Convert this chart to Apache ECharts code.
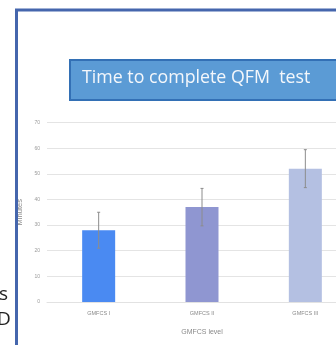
<!DOCTYPE html>
<html>
<head>
<meta charset="utf-8">
<script src="https://cdn.jsdelivr.net/npm/echarts@6/dist/echarts.min.js"></script>
<style>
  html, body { margin: 0; padding: 0; background: #ffffff; overflow: hidden; }
  #chart { width: 400px; height: 345px; }
</style>
</head>
<body>
<div id="chart"></div>
<script>
// GMFCS levels and time to complete the QFM test (minutes)
const categories = ['GMFCS I', 'GMFCS II', 'GMFCS III'];
const meanMinutes = [28, 37, 52];
const sdMinutes = [7, 7.3, 7.4];
const barColors = ['#4a8af2', '#8f96d1', '#b4c0e2'];
const yTicks = [0, 10, 20, 30, 40, 50, 60, 70];

const chart = echarts.init(document.getElementById('chart'));

const errorData = categories.map((c, i) => [i, meanMinutes[i] - sdMinutes[i], meanMinutes[i] + sdMinutes[i]]);

chart.setOption({
  animation: false,
  graphic: [
    // page frame
    { type: 'rect', shape: { x: 16.5, y: 10, width: 420, height: 400 },
      style: { fill: 'none', stroke: '#4566ad', lineWidth: 3 }, z: 1 },
    // title banner
    { type: 'rect', shape: { x: 70, y: 60, width: 320, height: 40 },
      style: { fill: '#5b9bd5', stroke: '#3370b5', lineWidth: 2 }, z: 10 },
    { type: 'text', left: 82, top: 69, z: 11,
      style: { text: 'Time to complete QFM  test', fill: '#f4f7fb',
               font: '17.8px "Open Sans", sans-serif' } },
    // fragments of surrounding text
    { type: 'text', left: -1, top: 285, z: 11,
      style: { text: 's', fill: '#222222', font: '19px "Open Sans", sans-serif' } },
    { type: 'text', left: -3, top: 310, z: 11,
      style: { text: 'D', fill: '#222222', font: '19px "Open Sans", sans-serif' } }
  ],
  grid: { left: 47, right: 43, top: 122.5, bottom: 43 },
  xAxis: {
    type: 'category',
    data: categories,
    name: 'GMFCS level',
    nameLocation: 'middle',
    nameGap: 27,
    nameTextStyle: { fontSize: 7, color: '#8a8a8a', fontFamily: 'Liberation Sans' },
    axisLine: { lineStyle: { color: '#e2e2e2' } },
    axisTick: { show: false },
    axisLabel: { fontSize: 5.5, color: '#8a8a8a', margin: 8, fontFamily: 'Liberation Sans' }
  },
  yAxis: {
    type: 'value',
    min: yTicks[0],
    max: yTicks[yTicks.length - 1],
    interval: 10,
    name: 'Minutes',
    nameLocation: 'middle',
    nameGap: 17,
    nameRotate: 90,
    nameTextStyle: { fontSize: 7.5, color: '#8a8a8a', fontFamily: 'Liberation Sans' },
    axisLine: { show: false },
    axisTick: { show: false },
    axisLabel: { fontSize: 5, color: '#9a9a9a', margin: 7, fontFamily: 'Liberation Sans' },
    splitLine: { lineStyle: { color: '#e4e4e4', width: 1 } }
  },
  series: [
    {
      type: 'bar',
      barWidth: 33,
      data: meanMinutes.map((v, i) => ({ value: v, itemStyle: { color: barColors[i] } }))
    },
    {
      type: 'custom',
      data: errorData,
      z: 5,
      renderItem: function (params, api) {
        const x = api.coord([api.value(0), 0])[0];
        const lo = api.coord([api.value(0), api.value(1)])[1];
        const hi = api.coord([api.value(0), api.value(2)])[1];
        const style = { stroke: '#8c8c8c', lineWidth: 1 };
        return {
          type: 'group',
          children: [
            { type: 'line', shape: { x1: x, y1: hi, x2: x, y2: lo }, style: style },
            { type: 'line', shape: { x1: x - 1.5, y1: hi, x2: x + 1.5, y2: hi }, style: style },
            { type: 'line', shape: { x1: x - 1.5, y1: lo, x2: x + 1.5, y2: lo }, style: style }
          ]
        };
      }
    }
  ]
});
</script>
</body>
</html>
